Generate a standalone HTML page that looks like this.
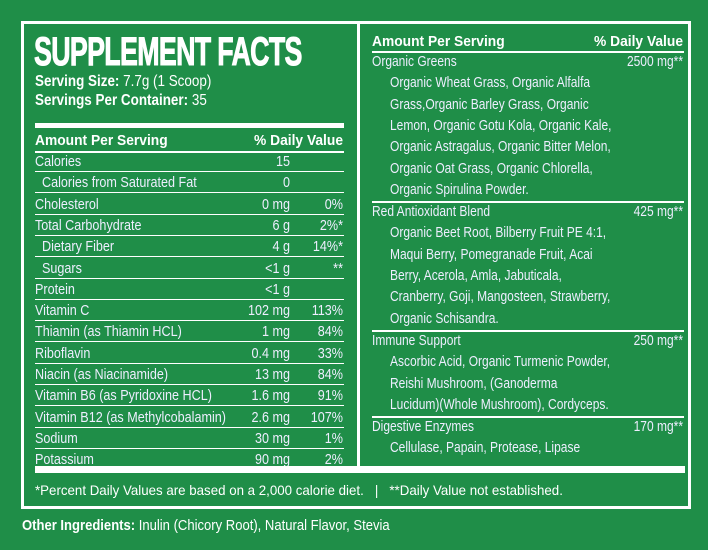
<!DOCTYPE html>
<html><head><meta charset="utf-8"><style>
body{margin:0;width:708px;height:550px;background:#1f8e48;overflow:hidden;position:relative;font-family:"Liberation Sans",sans-serif;color:#fff}
.a{position:absolute;white-space:nowrap;line-height:1;transform-origin:left top}
.hl{position:absolute;background:#fff}
.t{font-size:15px;color:#eef;transform:scaleX(0.84)}
.rt{font-size:15px;color:#eef;transform:scaleX(0.8)}
.b{font-weight:bold}
.r{text-align:right;transform-origin:right top}
</style></head><body>
<div class="hl" style="left:21px;top:21px;width:670px;height:3px"></div>
<div class="hl" style="left:21px;top:21px;width:3px;height:488px"></div>
<div class="hl" style="left:688px;top:21px;width:3px;height:488px"></div>
<div class="hl" style="left:21px;top:506px;width:670px;height:3px"></div>
<div class="hl" style="left:357px;top:21px;width:3px;height:450px"></div>
<div class="a b" style="left:34px;top:32px;font-size:40px;letter-spacing:-1px;transform:scaleX(0.67);-webkit-text-stroke:1px #fff">SUPPLEMENT FACTS</div>
<div class="a" style="left:35px;top:74px;font-size:16px;transform:scaleX(0.84)"><b>Serving Size:</b> 7.7g (1 Scoop)</div>
<div class="a" style="left:35px;top:93px;font-size:16px;transform:scaleX(0.84)"><b>Servings Per Container:</b> 35</div>
<div class="hl" style="left:35px;top:123px;width:309px;height:5px"></div>
<div class="a b" style="left:35px;top:133px;font-size:15px;transform:scaleX(0.92)">Amount Per Serving</div>
<div class="a b r" style="left:243px;width:100px;top:133px;font-size:15px;transform:scaleX(0.92)">% Daily Value</div>
<div class="hl" style="left:35px;top:151px;width:309px;height:2px"></div>
<div id="L"></div>
<div class="hl" style="left:35px;top:466px;width:650px;height:7px"></div>
<div class="a" style="left:35px;top:483px;font-size:14px;transform:scaleX(0.95)">*Percent Daily Values are based on a 2,000 calorie diet. &nbsp;&nbsp;| &nbsp;&nbsp;**Daily Value not established.</div>
<div class="a" style="left:22px;top:518px;font-size:15px;transform:scaleX(0.87)"><b>Other Ingredients:</b> Inulin (Chicory Root), Natural Flavor, Stevia</div>
<div class="a b" style="left:372px;top:34px;font-size:15px;transform:scaleX(0.92)">Amount Per Serving</div>
<div class="a b r" style="left:583px;width:100px;top:34px;font-size:15px;transform:scaleX(0.92)">% Daily Value</div>
<div class="hl" style="left:372px;top:51px;width:312px;height:2px"></div>
<div id="R"></div>
<script>
var rows=[["Calories","15",""],["&nbsp;&nbsp;Calories from Saturated Fat","0",""],["Cholesterol","0 mg","0%"],["Total Carbohydrate","6 g","2%*"],["&nbsp;&nbsp;Dietary Fiber","4 g","14%*"],["&nbsp;&nbsp;Sugars","&lt;1 g","**"],["Protein","&lt;1 g",""],["Vitamin C","102 mg","113%"],["Thiamin (as Thiamin HCL)","1 mg","84%"],["Riboflavin","0.4 mg","33%"],["Niacin (as Niacinamide)","13 mg","84%"],["Vitamin B6 (as Pyridoxine HCL)","1.6 mg","91%"],["Vitamin B12 (as Methylcobalamin)","2.6 mg","107%"],["Sodium","30 mg","1%"],["Potassium","90 mg","2%"]];
var h="";rows.forEach(function(r,i){var y=154+i*21.3;
h+='<div class="a t" style="left:35px;top:'+y+'px">'+r[0]+'</div><div class="a t r" style="left:230px;width:60px;top:'+y+'px">'+r[1]+'</div><div class="a t r" style="left:293px;width:50px;top:'+y+'px">'+r[2]+'</div>';
if(i<14)h+='<div class="hl" style="left:35px;top:'+(y+17)+'px;width:309px;height:1px"></div>';});
document.getElementById("L").innerHTML=h;
var R=[[0,"Organic Greens","2500 mg**"],[1,"Organic Wheat Grass, Organic Alfalfa"],[1,"Grass,Organic Barley Grass, Organic"],[1,"Lemon, Organic Gotu Kola, Organic Kale,"],[1,"Organic Astragalus, Organic Bitter Melon,"],[1,"Organic Oat Grass, Organic Chlorella,"],[1,"Organic Spirulina Powder."],[2],[0,"Red Antioxidant Blend","425 mg**"],[1,"Organic Beet Root, Bilberry Fruit PE 4:1,"],[1,"Maqui Berry, Pomegranade Fruit, Acai"],[1,"Berry, Acerola, Amla, Jabuticala,"],[1,"Cranberry, Goji, Mangosteen, Strawberry,"],[1,"Organic Schisandra."],[2],[0,"Immune Support","250 mg**"],[1,"Ascorbic Acid, Organic Turmenic Powder,"],[1,"Reishi Mushroom, (Ganoderma"],[1,"Lucidum)(Whole Mushroom), Cordyceps."],[2],[0,"Digestive Enzymes","170 mg**"],[1,"Cellulase, Papain, Protease, Lipase"]];
var g="",y=54;R.forEach(function(r){if(r[0]==2){g+='<div class="hl" style="left:372px;top:'+(y-2)+'px;width:312px;height:2px"></div>';y+=1;return;}
g+='<div class="a rt" style="left:'+(r[0]?390:372)+'px;top:'+y+'px">'+r[1]+'</div>';
if(r[2])g+='<div class="a rt r" style="left:580px;width:103px;top:'+y+'px">'+r[2]+'</div>';y+=21.3;});
document.getElementById("R").innerHTML=g;
</script>
</body></html>
